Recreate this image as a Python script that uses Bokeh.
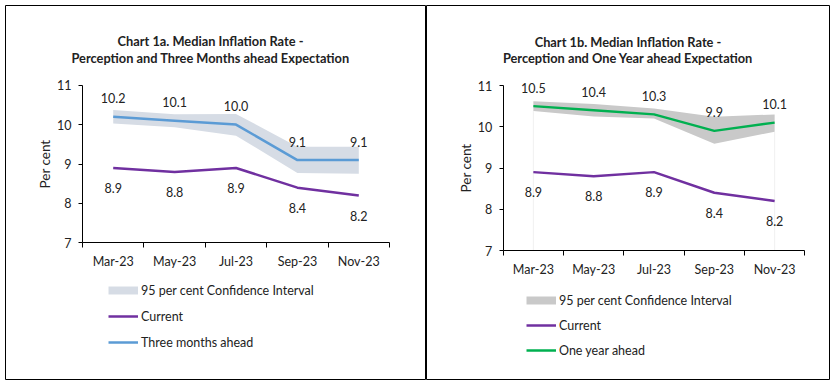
from bokeh.plotting import figure
from bokeh.layouts import row
from bokeh.models import Range1d, FixedTicker, Legend, LegendItem, Label, ColumnDataSource
from bokeh.embed import file_html
from bokeh.resources import INLINE
from bokeh.core.properties import value

# ---------------- data ----------------
months = ["Mar-23", "May-23", "Jul-23", "Sep-23", "Nov-23"]
current = [8.9, 8.8, 8.9, 8.4, 8.2]
three_month = [10.2, 10.1, 10.0, 9.1, 9.1]
three_month_lo = [10.03, 9.93, 9.72, 8.77, 8.75]
three_month_hi = [10.37, 10.26, 10.27, 9.44, 9.44]
one_year = [10.5, 10.4, 10.3, 9.9, 10.1]
one_year_lo = [10.38, 10.25, 10.20, 9.59, 9.88]
one_year_hi = [10.62, 10.55, 10.44, 10.24, 10.30]
y_ticks = [7, 8, 9, 10, 11]
titles_a = ["Chart 1a. Median Inflation Rate -", "Perception and Three Months ahead Expectation"]
titles_b = ["Chart 1b. Median Inflation Rate -", "Perception and One Year ahead Expectation"]
ci_label = "95 per cent Confidence Interval"
current_label = "Current"
three_label = "Three months ahead"
one_label = "One year ahead"

FONT = "Lato"
TXT = "#222222"
PURPLE = "#7030A0"
BLUE = "#5B9BD5"
GREEN = "#00B050"


def span_range(size, v0, p0, v1, p1):
    """Range whose ends fall on pixel 0 and `size` when v0 sits at p0 and v1 at p1."""
    k = (v1 - v0) / (p1 - p0)
    return v0 - p0 * k, v0 + (size - p0) * k


def make_panel(width, height, borders, plot_x, plot_y, expect, lo, hi, exp_color, band_color,
               exp_label, titles, title_x, title_ys, legend_pos, legend_spacing, edges):
    n = len(months)
    xs = [i + 0.5 for i in range(n)]
    bl, br, bt, bb = borders
    fw, fh = width - bl - br, height - bt - bb
    # plot_x: frame columns of x=0 and x=n; plot_y: frame rows of top and bottom tick
    x0, x1 = span_range(fw, 0, plot_x[0], n, plot_x[1])
    yb, yt = span_range(fh, y_ticks[0], fh - plot_y[1], y_ticks[-1], fh - plot_y[0])
    p = figure(width=width, height=height, output_backend="svg", toolbar_location=None,
               x_range=Range1d(x0, x1), y_range=Range1d(yb, yt),
               min_border_left=bl, min_border_right=br, min_border_top=bt, min_border_bottom=bb)
    p.outline_line_color = "black"
    p.outline_line_width = 1
    p.xgrid.visible = False
    p.ygrid.visible = False
    p.background_fill_color = "white"
    p.border_fill_color = "white"

    src = ColumnDataSource(dict(
        x=xs, cur=current, exp=expect, lo=lo, hi=hi,
        cur_lbl=[f"{v:.1f}" for v in current],
        exp_lbl=[f"{v:.1f}" for v in expect],
    ))

    if edges:
        esrc = ColumnDataSource(dict(x=[xs[0], xs[-1]], y0=[y_ticks[0]] * 2, y1=[lo[0], lo[-1]]))
        p.segment(x0="x", y0="y0", x1="x", y1="y1", source=esrc, line_color="#F0F0F0", line_width=1)

    p.varea(x="x", y1="lo", y2="hi", source=src, fill_color=band_color)
    cur_r = p.line("x", "cur", source=src, line_color=PURPLE, line_width=2.5)
    exp_r = p.line("x", "exp", source=src, line_color=exp_color, line_width=2.5)
    ci_proxy = p.line("x", "lo", source=src, line_color=band_color, line_width=8, visible=False)

    p.text("x", "exp", text="exp_lbl", source=src, y_offset=-18.5, text_align="center",
           text_baseline="middle", text_font=value(FONT), text_font_size="12.5px", text_color=TXT)
    p.text("x", "cur", text="cur_lbl", source=src, y_offset=20, text_align="center",
           text_baseline="middle", text_font=value(FONT), text_font_size="12.5px", text_color=TXT)

    xa = p.xaxis[0]
    xa.fixed_location = y_ticks[0]
    xa.bounds = (0, n)
    xa.ticker = FixedTicker(ticks=xs, minor_ticks=list(range(n + 1)))
    xa.major_label_overrides = {x: m for x, m in zip(xs, months)}
    xa.major_tick_in = 0
    xa.major_tick_out = 0
    xa.minor_tick_in = 0
    xa.minor_tick_out = 5
    xa.minor_tick_line_color = "black"
    xa.axis_line_color = "black"
    xa.major_label_standoff = 6
    xa.major_label_text_font = FONT
    xa.major_label_text_font_size = "12.5px"
    xa.major_label_text_color = TXT

    ya = p.yaxis[0]
    ya.fixed_location = 0
    ya.bounds = (y_ticks[0], y_ticks[-1])
    ya.ticker = FixedTicker(ticks=y_ticks, minor_ticks=[])
    ya.major_tick_in = 0
    ya.major_tick_out = 4
    ya.major_tick_line_color = "black"
    ya.axis_line_color = "black"
    ya.major_label_standoff = 7
    ya.major_label_text_font = FONT
    ya.major_label_text_font_size = "12.5px"
    ya.major_label_text_color = TXT
    ya.axis_label = "Per cent"
    ya.axis_label_text_font = FONT
    ya.axis_label_text_font_size = "13.5px"
    ya.axis_label_text_font_style = "normal"
    ya.axis_label_text_color = TXT
    ya.axis_label_standoff = 1

    for t, ty in zip(titles, title_ys):
        p.add_layout(Label(x=title_x, y=ty, x_units="screen", y_units="screen", text=t,
                           text_align="center", text_baseline="middle", text_font=FONT,
                           text_font_size="12.8px", text_font_style="bold", text_color=TXT))

    legend = Legend(items=[LegendItem(label=ci_label, renderers=[ci_proxy]),
                           LegendItem(label=current_label, renderers=[cur_r]),
                           LegendItem(label=exp_label, renderers=[exp_r])],
                    location=legend_pos, orientation="vertical",
                    glyph_width=30, glyph_height=16, label_height=16, spacing=legend_spacing,
                    padding=0, margin=0, border_line_color=None, background_fill_alpha=0,
                    label_standoff=3, label_text_font=FONT, label_text_font_size="12.5px",
                    label_text_color=TXT)
    p.add_layout(legend)
    return p


# panel 1 frame: page x 5..426, y 5..379 ; panel 2 frame: page x 426..829, y 5..379
p1 = make_panel(426, 380, (5, 0, 5, 1), (77, 384), (79.7, 237.3),
                three_month, three_month_lo, three_month_hi, BLUE, "#D6DCE5", three_label,
                titles_a, 205, [338.7, 321.3], (103, 28.7), 10, False)
p2 = make_panel(408, 380, (0, 5, 5, 1), (76.7, 378.3), (80, 245),
                one_year, one_year_lo, one_year_hi, GREEN, "#C9C9C9", one_label,
                titles_b, 201.5, [337.7, 321.7], (100, 21), 9, True)

layout = row(p1, p2)

open("out.html", "w").write(file_html(layout, INLINE))
